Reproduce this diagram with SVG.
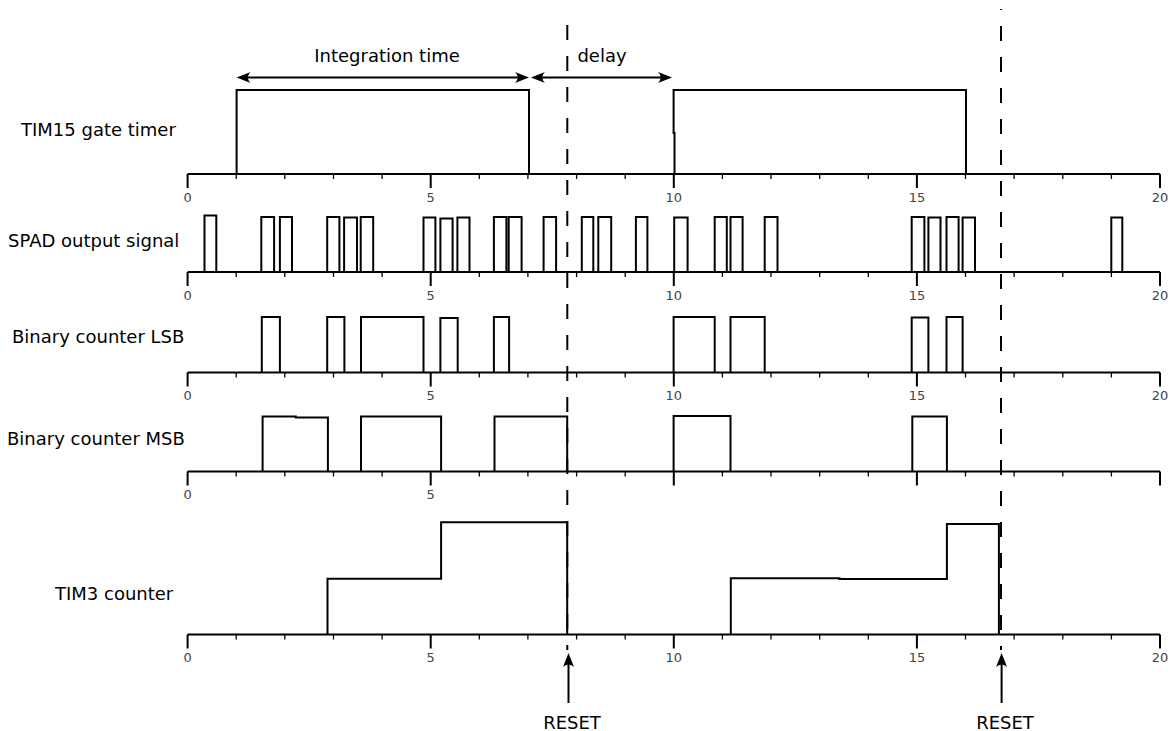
<svg xmlns="http://www.w3.org/2000/svg" xmlns:xlink="http://www.w3.org/1999/xlink" width="1176" height="731" viewBox="0 0 1176 731">
<style>
.sig{fill:none;stroke:#000;stroke-width:2;stroke-linejoin:miter}
.ax{fill:none;stroke:#000;stroke-width:2}
.mn{fill:none;stroke:#000;stroke-width:1.3}
.lbl{font-family:"DejaVu Sans","Liberation Sans",sans-serif;font-size:18px;fill:#000}
.num{font-family:"DejaVu Sans","Liberation Sans",sans-serif;font-size:13px;fill:#444;text-anchor:middle}
.dash{fill:none;stroke:#000;stroke-width:2;stroke-dasharray:15 16}
.arr{fill:none;stroke:#000;stroke-width:2}
</style>
<defs>
<marker id="ah" viewBox="-15 -7 16 14" refX="-4" refY="0" markerWidth="16" markerHeight="14" markerUnits="userSpaceOnUse" orient="auto-start-reverse">
<path d="M0,0 L-14,-5.5 C-10.5,-2 -10.5,2 -14,5.5 Z" fill="#000"/>
</marker>
<g id="axis">
<path class="ax" d="M187.6,0 H1160 M187.6,0 v14 M430.7,0 v14 M673.8,0 v14 M916.9,0 v14 M1160,0 v14"/>
<path class="mn" d="M236.2,0 v5 M284.8,0 v5 M333.5,0 v5 M382.1,0 v5 M479.3,0 v5 M527.9,0 v5 M576.6,0 v5 M625.2,0 v5 M722.4,0 v5 M771,0 v5 M819.7,0 v5 M868.3,0 v5 M965.5,0 v5 M1014.1,0 v5 M1062.8,0 v5 M1111.4,0 v5"/>
</g>
<g id="nums05">
<text class="num" x="187.6" y="27.5">0</text>
<text class="num" x="430.7" y="27.5">5</text>
</g>
<g id="nums">
<use xlink:href="#nums05"/>
<text class="num" x="673.8" y="27.5">10</text>
<text class="num" x="916.9" y="27.5">15</text>
<text class="num" x="1160" y="27.5">20</text>
</g>
</defs>

<g id="row-tim15">
<text class="lbl" x="21" y="136">TIM15 gate timer</text>
<use xlink:href="#axis" transform="translate(0,174)"/>
<use xlink:href="#nums" transform="translate(0,174)"/>
<path class="sig" d="M236.6,174 V90 H529 V174 M674.5,174 V133 H673.6 V90 H966 V174"/>
</g>

<g id="row-spad">
<text class="lbl" x="8" y="247">SPAD output signal</text>
<use xlink:href="#axis" transform="translate(0,272)"/>
<use xlink:href="#nums" transform="translate(0,272)"/>
<path class="sig" d="M204.5,272 V215.5 H216.3 V272 M261.3,272 V217 H274.1 V272 M279.9,272 V217 H292 V272 M327.2,272 V217 H339.4 V272 M344.1,272 V217.5 H357 V272 M360.7,272 V217 H373.2 V272 M423.5,272 V217.5 H435.4 V272 M440.4,272 V218.5 H452.6 V272 M457.4,272 V217.5 H469.5 V272 M493.9,272 V217 H506.4 V272 M508.7,272 V217 H521.6 V272 M543.6,272 V217 H556.1 V272 M581.8,272 V217 H593.3 V272 M598.3,272 V217 H611.2 V272 M635.9,272 V217 H647.4 V272 M674.2,272 V217.5 H687.6 V272 M714.7,272 V217 H726.8 V272 M730.5,272 V217 H742.6 V272 M764.7,272 V217 H777.5 V272 M911.7,272 V217 H924.4 V272 M928.4,272 V217.5 H940.5 V272 M946.5,272 V217 H958.6 V272 M962.6,272 V217.5 H975 V272 M1111.3,272 V217.5 H1122.3 V272"/>
</g>

<g id="row-lsb">
<text class="lbl" x="12" y="342.5">Binary counter LSB</text>
<use xlink:href="#axis" transform="translate(0,372.5)"/>
<use xlink:href="#nums" transform="translate(0,372.5)"/>
<path class="sig" d="M261.8,372.5 V317 H279.9 V372.5 M327.2,372.5 V317 H344.4 V372.5 M361,372.5 V317 H423.5 V372.5 M440.4,372.5 V318 H457.7 V372.5 M493.9,372.5 V317 H509.1 V372.5 M673.6,372.5 V317 H714.7 V372.5 M730.5,372.5 V317 H764.7 V372.5 M911.7,372.5 V317.5 H928.4 V372.5 M946.5,372.5 V317 H962.6 V372.5"/>
</g>

<g id="row-msb">
<text class="lbl" x="7" y="444.5">Binary counter MSB</text>
<use xlink:href="#axis" transform="translate(0,471.5)"/>
<use xlink:href="#nums05" transform="translate(0,471.5)"/>
<path class="sig" d="M262.6,471.5 V416.5 H295.8 V417.5 H327.9 V471.5 M361,471.5 V416.5 H441.1 V471.5 M494.5,471.5 V416.5 H567.2 V471.5 M673.6,471.5 V416 H730.5 V471.5 M912.3,471.5 V416.5 H946.9 V471.5"/>
</g>

<g id="row-tim3">
<text class="lbl" x="55" y="600">TIM3 counter</text>
<use xlink:href="#axis" transform="translate(0,634.5)"/>
<use xlink:href="#nums" transform="translate(0,634.5)"/>
<path class="sig" d="M327.5,634.5 V578.7 H441.1 V522.3 H567.2 V634.5 M730.8,634.5 V578.3 H839.5 V579 H946.9 V524 H998.9 V634.5"/>
</g>

<g id="connectors">
<line class="dash" x1="567.3" y1="25" x2="567.3" y2="650"/>
<line class="dash" x1="1001" y1="9" x2="1001" y2="650" stroke-dashoffset="14"/>
<line class="arr" x1="240.6" y1="77.5" x2="525" y2="77.5" marker-start="url(#ah)" marker-end="url(#ah)"/>
<line class="arr" x1="535" y1="77.5" x2="668" y2="77.5" marker-start="url(#ah)" marker-end="url(#ah)"/>
<line class="arr" x1="568.5" y1="703" x2="568.5" y2="657" marker-end="url(#ah)"/>
<line class="arr" x1="1001.6" y1="703" x2="1001.6" y2="657" marker-end="url(#ah)"/>
<text class="lbl" x="387" y="62" text-anchor="middle">Integration time</text>
<text class="lbl" x="602" y="62" text-anchor="middle">delay</text>
<text class="lbl" x="572" y="729" text-anchor="middle">RESET</text>
<text class="lbl" x="1005" y="729" text-anchor="middle">RESET</text>
</g>
</svg>
